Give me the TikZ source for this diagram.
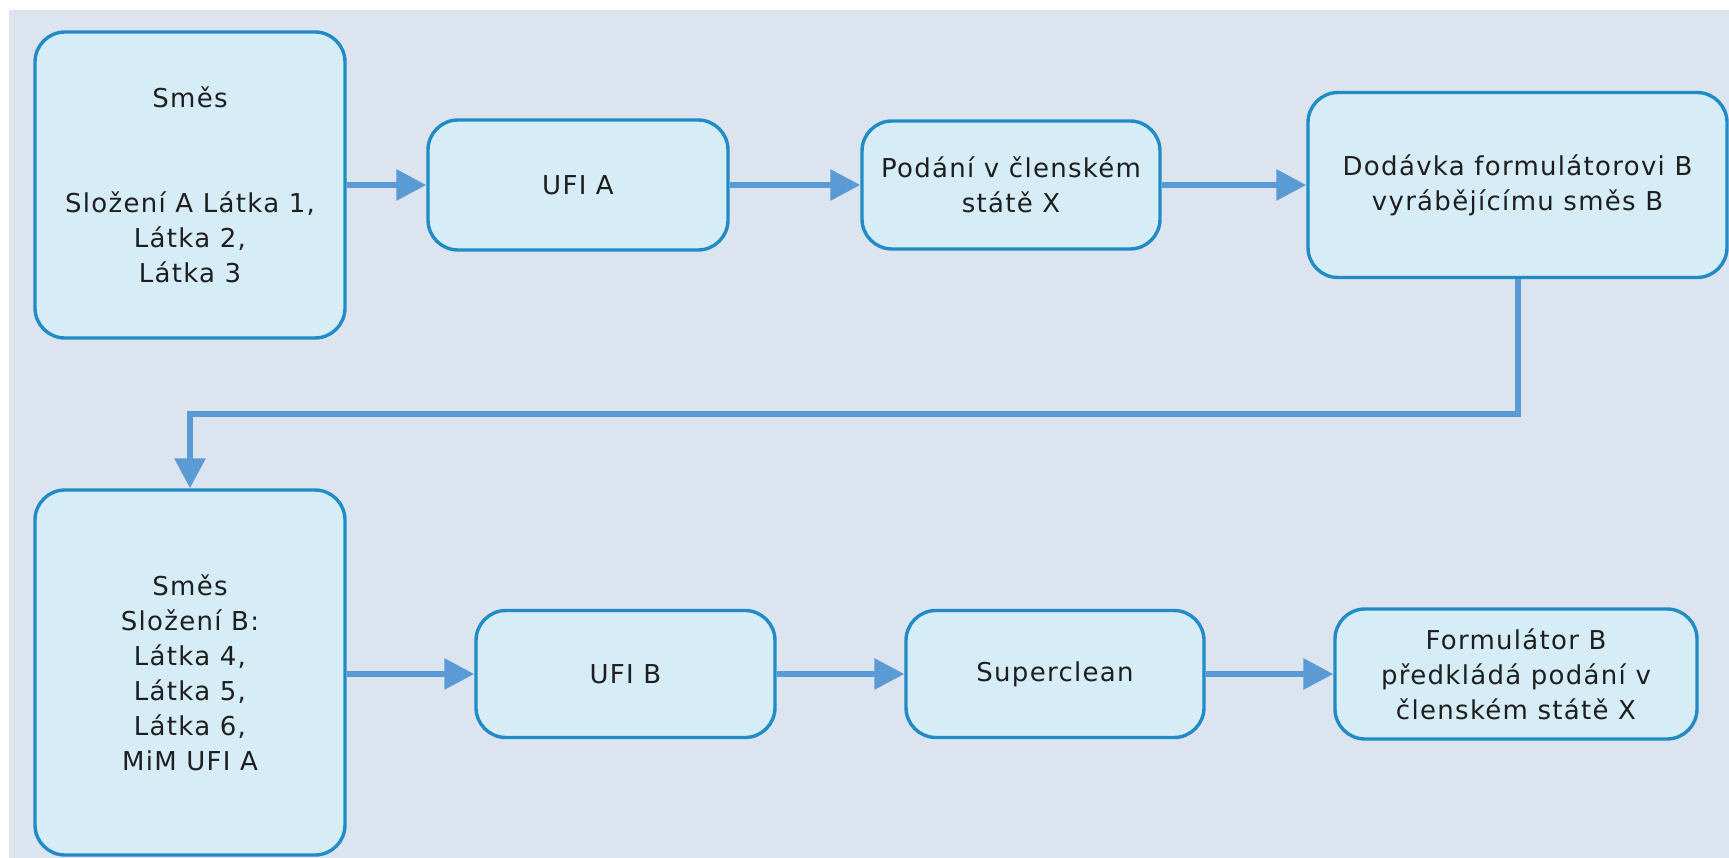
\documentclass[tikz,border=0pt]{standalone}
\usepackage{fontspec}
\setmainfont{DejaVu Sans}[LetterSpace=5]
\usetikzlibrary{arrows.meta}
\definecolor{bgc}{RGB}{220,228,240}
\definecolor{boxfill}{RGB}{214,237,248}
\definecolor{boxline}{RGB}{33,139,198}
\definecolor{arrc}{RGB}{91,155,213}
\definecolor{txt}{RGB}{30,30,30}
\begin{document}
\begin{tikzpicture}[x=1pt,y=-1pt,
  flowbox/.style={draw=boxline, fill=boxfill, line width=3.4pt, rounded corners=30pt,
    align=center, text=txt, inner sep=0pt, font=\fontsize{26}{35}\selectfont},
  conn/.style={draw=arrc, line width=6pt},
  arr/.style={conn, -{Triangle[length=30pt,width=30pt]}}]
\useasboundingbox (0,0) rectangle (1729,858);
\fill[white] (0,0) rectangle (1729,858);
\fill[bgc] (9,10) rectangle (1729,858);
\begin{scope}
\clip (0,0) rectangle (1729,858);
\node[flowbox, minimum width=310pt, minimum height=306pt] (m1) at (190,185)
  {Směs\\[70pt]Složení A Látka 1,\\Látka 2,\\Látka 3};
\node[flowbox, minimum width=300pt, minimum height=130pt] (ufia) at (578,185) {UFI A};
\node[flowbox, minimum width=298pt, minimum height=128pt] (pod) at (1011,185)
  {Podání v členském\\státě X};
\node[flowbox, minimum width=419pt, minimum height=185pt] (dod) at (1517.5,185)
  {Dodávka formulátorovi B\\vyrábějícímu směs B};
\node[flowbox, minimum width=310pt, minimum height=365pt] (m2) at (190,672.5)
  {Směs\\Složení B:\\Látka 4,\\Látka 5,\\Látka 6,\\MiM UFI A};
\node[flowbox, minimum width=299pt, minimum height=127pt] (ufib) at (625.5,674) {UFI B};
\node[flowbox, minimum width=298pt, minimum height=127pt] (sup) at (1055,674) {Superclean};
\node[flowbox, minimum width=362pt, minimum height=130pt] (form) at (1516,674)
  {Formulátor B\\předkládá podání v\\členském státě X};
\coordinate (midy) at (0,414);
\draw[arr] (m1.east |- ufia.west) -- (ufia.west);
\draw[arr] (ufia.east) -- (pod.west);
\draw[arr] (pod.east) -- (dod.west);
\draw[arr] (dod.south) -- (dod.south |- midy) -- (m2.north |- midy) -- (m2.north);
\draw[arr] (m2.east |- ufib.west) -- (ufib.west);
\draw[arr] (ufib.east) -- (sup.west);
\draw[arr] (sup.east) -- (form.west);
\end{scope}
\end{tikzpicture}
\end{document}
